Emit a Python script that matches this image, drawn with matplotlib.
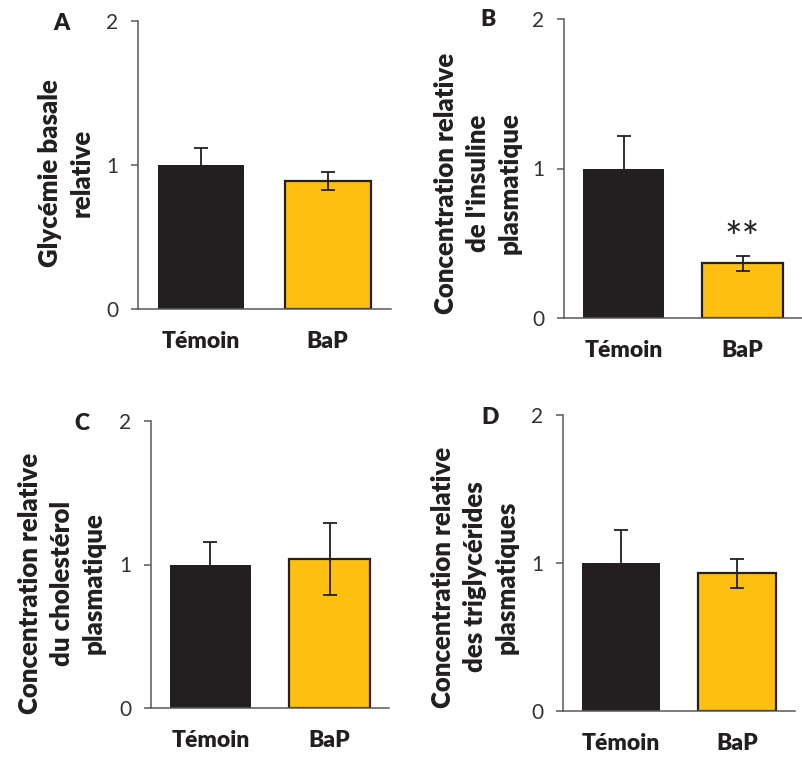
import matplotlib
matplotlib.use('Agg')
import matplotlib.pyplot as plt

plt.rcParams['font.family'] = ['Lato', 'DejaVu Sans']

##Data

groups = ['Témoin', 'BaP']
panel_letters = ['A', 'B', 'C', 'D']
ylabels = ['Glycémie basale\nrelative',
           "Concentration relative\nde l'insuline\nplasmatique",
           'Concentration relative\ndu cholestérol\nplasmatique',
           'Concentration relative\ndes triglycérides\nplasmatiques']
glycemie = [1.0, 0.89]
glycemie_err = [0.115, 0.064]
insuline = [1.0, 0.365]
insuline_err = [0.215, 0.05]
cholesterol = [1.0, 1.04]
cholesterol_err = [0.155, 0.25]
triglycerides = [1.0, 0.93]
triglycerides_err = [0.22, 0.10]
yticks = [0, 1, 2]

values = [glycemie, insuline, cholesterol, triglycerides]
errors = [glycemie_err, insuline_err, cholesterol_err, triglycerides_err]

##Layout (pixels in a 803x758 figure)

W, H = 803, 758
boxes = [(138, 391, 21, 309), (564, 802, 19, 318),
         (151, 389, 421, 708), (563, 795, 415, 711)]
label_centres = [(66, 173), (478, 183), (62, 583), (475, 577)]
letter_pos = [(61, 23), (488, 20), (82, 423), (490, 417)]

colors = ['#231f20', '#fdc010']
dark = '#231f20'

fig = plt.figure(figsize=(W/100, H/100), dpi=100)

for i in range(4):
    l, r, t, b = boxes[i]
    ax = fig.add_axes([l/W, 1-b/H, (r-l)/W, (b-t)/H])
    x = range(len(groups))
    ax.bar(x, values[i], width=0.68, color=colors,
           edgecolor=[colors[0], dark], linewidth=[0, 1.6], zorder=2)
    ax.errorbar(x, values[i], yerr=errors[i], fmt='none', ecolor=dark,
                elinewidth=1.3, capsize=5, capthick=1.3, zorder=3)
    ax.set_ylim(0, 2)
    ax.set_xlim(-0.5, 1.5)
    ax.set_yticks(yticks)
    ax.set_xticks(list(x))
    ax.set_xticklabels(groups, fontsize=16.5, fontweight='heavy', color=dark)
    ax.tick_params(axis='x', length=0, pad=16)
    ax.tick_params(axis='y', length=5, width=1.1, color='#595959',
                   labelsize=15, labelcolor='#333333', pad=9)
    for s in ['top', 'right']:
        ax.spines[s].set_visible(False)
    for s in ['left', 'bottom']:
        ax.spines[s].set_color('#595959')
        ax.spines[s].set_linewidth(1.1)

    cx, cy = label_centres[i]
    fig.text(cx/W, 1-cy/H, ylabels[i], rotation=90, ha='center', va='center',
             multialignment='center', fontsize=18.5, fontweight='heavy',
             color=dark, linespacing=1.38)
    lx, ly = letter_pos[i]
    fig.text(lx/W, 1-ly/H, panel_letters[i], ha='center', va='center',
             fontsize=16.5, fontweight='heavy', color=dark)

    if i == 1:
        # significance mark above the BaP bar
        ax.text(1, 0.52, '**', ha='center', va='center', fontsize=30,
                color=dark)

fig.savefig('out.png', dpi=100)
